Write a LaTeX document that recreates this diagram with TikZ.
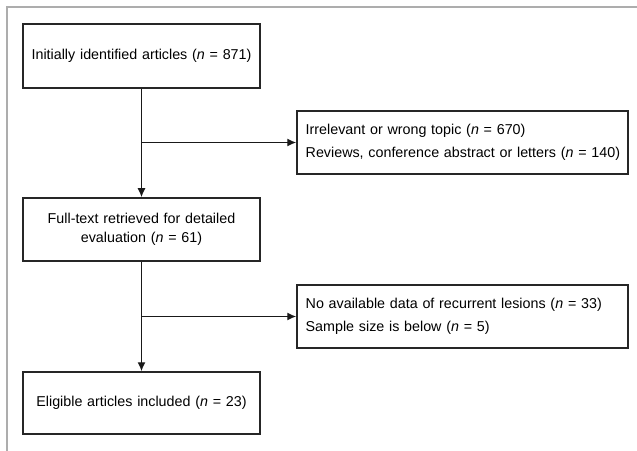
\documentclass[tikz,border=0pt]{standalone}
\usepackage{fontspec}
\setmainfont{Liberation Sans}
\usetikzlibrary{arrows.meta}
\begin{document}
\begin{tikzpicture}[x=1bp,y=-1bp,
  box/.style={draw=black!85, line width=1.5bp, minimum height=63bp, inner ysep=0bp, font=\fontsize{14.3bp}{19bp}\selectfont},
  lbox/.style={box, minimum width=237bp, inner xsep=2bp, text width=233bp, align=center},
  rbox/.style={box, minimum width=331bp, inner xsep=8.7bp, text width=313.6bp, align=left, font=\fontsize{14.3bp}{23.5bp}\selectfont},
  conn/.style={draw=black!90, line width=1.4bp, -{Latex[length=9bp,width=8bp]}}
]
\useasboundingbox (0,0) rectangle (637,451);
\draw[color=black!32, line width=1.6bp] (7,452) -- (7,7) -- (638,7);

\node[lbox, minimum height=64bp] (b1) at (141.5,56) {Initially identified articles (\textit{n} = 871)};
\node[rbox] (b2) at (462.5,142.5) {\mbox{Irrelevant or wrong topic (\textit{n} = 670)}\\\mbox{Reviews, conference abstract or letters (\textit{n} = 140)}};
\node[lbox] (b3) at (141.5,229.5) {Full-text retrieved for detailed\\evaluation (\textit{n} = 61)};
\node[rbox] (b4) at (462.5,316.5) {\mbox{No available data of recurrent lesions (\textit{n} = 33)}\\\mbox{Sample size is below (\textit{n} = 5)}};
\node[lbox, minimum height=62bp] (b5) at (141.5,403) {Eligible articles included (\textit{n} = 23)};

\coordinate (j1) at (141.5,142.5);
\coordinate (j2) at (141.5,316.5);
\draw[conn] (b1) -- (b3);
\draw[conn] (j1) -- (b2.west);
\draw[conn] (b3) -- (b5);
\draw[conn] (j2) -- (b4.west);
\end{tikzpicture}
\end{document}
